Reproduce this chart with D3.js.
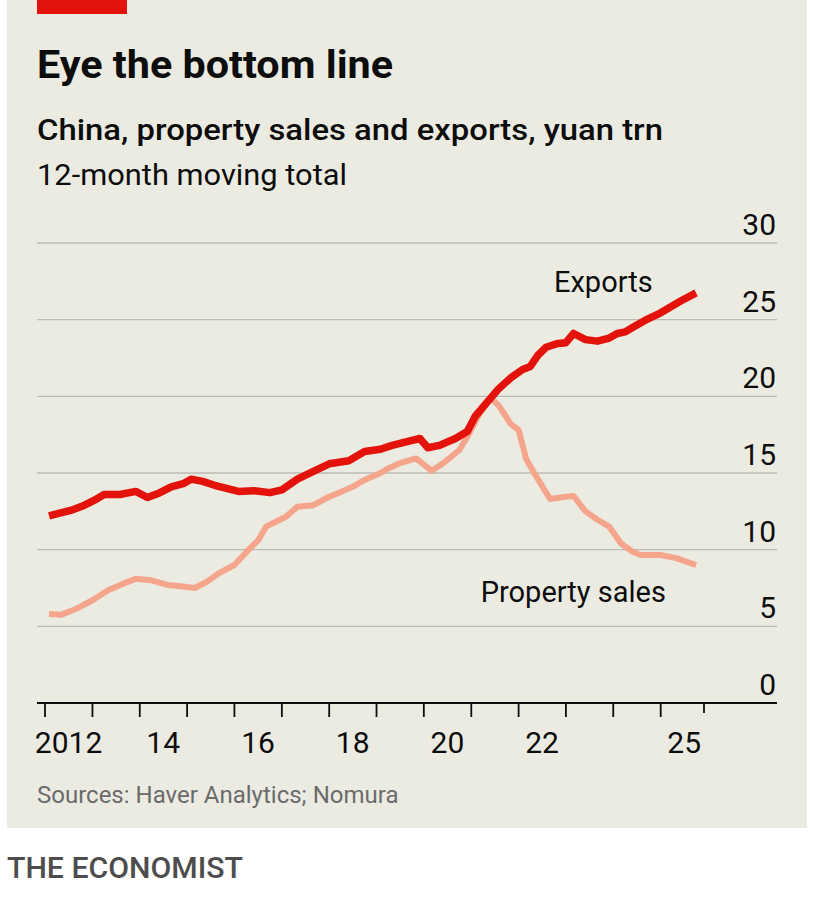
<!DOCTYPE html>
<html>
<head>
<meta charset="utf-8">
<script src="https://cdn.jsdelivr.net/npm/d3@7"></script>
<style>
  body { margin: 0; background: #fff; }
  text { font-family: Roboto, "Noto Sans", sans-serif; }
</style>
</head>
<body>
<script>
var width = 813,
    height = 919;

// 12-month moving totals, yuan trn
var exportDates = ["2012-02", "2012-05", "2012-08", "2012-11", "2013-02", "2013-04", "2013-08", "2013-12",
    "2014-03", "2014-06", "2014-09", "2014-12", "2015-02", "2015-05", "2015-08", "2015-11",
    "2016-02", "2016-06", "2016-10", "2017-01", "2017-05", "2017-09", "2018-01", "2018-06",
    "2018-10", "2019-02", "2019-05", "2019-08", "2019-12", "2020-02", "2020-05", "2020-09",
    "2020-12", "2021-02", "2021-04", "2021-06", "2021-08", "2021-11", "2022-02", "2022-04",
    "2022-06", "2022-08", "2022-11", "2023-01", "2023-03", "2023-06", "2023-09", "2023-12",
    "2024-02", "2024-04", "2024-06", "2024-09", "2025-01", "2025-03", "2025-06", "2025-10"];
var exportValues = [12.2, 12.4, 12.6, 12.9, 13.3, 13.6, 13.6, 13.8,
    13.4, 13.7, 14.1, 14.3, 14.6, 14.45, 14.2, 14.0,
    13.8, 13.85, 13.72, 13.9, 14.6, 15.1, 15.6, 15.8,
    16.4, 16.55, 16.8, 17.0, 17.25, 16.65, 16.8, 17.25,
    17.7, 18.7, 19.3, 19.9, 20.5, 21.2, 21.75, 21.95,
    22.7, 23.2, 23.45, 23.5, 24.1, 23.7, 23.6, 23.8,
    24.1, 24.2, 24.5, 24.95, 25.45, 25.75, 26.2, 26.75];

var propertyDates = ["2012-02", "2012-05", "2012-09", "2013-01", "2013-05", "2013-09", "2013-12",
    "2014-04", "2014-08", "2014-12", "2015-03", "2015-06", "2015-09", "2016-01", "2016-05",
    "2016-07", "2016-09", "2017-02", "2017-05", "2017-09", "2018-01", "2018-03", "2018-07",
    "2018-10", "2019-02", "2019-04", "2019-07", "2019-11", "2020-03", "2020-06", "2020-10",
    "2020-12", "2021-03", "2021-06", "2021-08", "2021-11", "2022-01", "2022-03", "2022-05",
    "2022-09", "2023-01", "2023-03", "2023-06", "2023-09", "2023-12", "2024-03", "2024-06",
    "2024-08", "2025-01", "2025-05", "2025-10"];
var propertyValues = [5.8, 5.75, 6.15, 6.7, 7.35, 7.8, 8.1,
    8.0, 7.7, 7.6, 7.5, 7.9, 8.45, 9.0, 10.1,
    10.6, 11.5, 12.15, 12.8, 12.9, 13.45, 13.65, 14.1,
    14.55, 15.0, 15.3, 15.65, 15.95, 15.15, 15.65, 16.5,
    17.35, 18.8, 19.9, 19.4, 18.2, 17.8, 15.9, 15.0,
    13.3, 13.45, 13.5, 12.5, 11.95, 11.5, 10.4, 9.85,
    9.65, 9.65, 9.45, 9.0];

var yTicks = [0, 5, 10, 15, 20, 25, 30];
var yearTicks = [2012, 2013, 2014, 2015, 2016, 2017, 2018, 2019, 2020, 2021, 2022, 2023, 2024, 2025];
var yearLabels = [[2012, "2012"], [2014, "14"], [2016, "16"], [2018, "18"], [2020, "20"], [2022, "22"], [2025, "25"]];
var seriesLabels = [
    {text: "Exports", date: "2022-10", value: 26.8},
    {text: "Property sales", date: "2021-03-15", value: 6.6}
];

var parse = d3.timeParse("%Y-%m"),
    parseDay = d3.timeParse("%Y-%m-%d");

var exportsData = exportDates.map(function(d, i) { return {date: parse(d), value: exportValues[i]}; });
var propertyData = propertyDates.map(function(d, i) { return {date: parse(d), value: propertyValues[i]}; });

var endDate = new Date(2025, 11, 1);

var x = d3.scaleTime()
    .domain([new Date(2012, 0, 1), endDate])
    .range([45, 704]);

var y = d3.scaleLinear()
    .domain([0, 30])
    .range([703, 243]);

var svg = d3.select('body').append('svg')
    .attr('width', width)
    .attr('height', height);

// panel
svg.append('rect')
    .attr('x', 7).attr('y', 0)
    .attr('width', 800).attr('height', 828)
    .attr('fill', '#ecebe2');

svg.append('rect')
    .attr('x', 37).attr('y', 0)
    .attr('width', 90).attr('height', 14)
    .attr('fill', '#e3120b');

// titles
svg.append('text')
    .attr('x', 37).attr('y', 78)
    .attr('font-size', 39).attr('font-weight', 700)
    .attr('fill', '#0d0d0d')
    .attr('textLength', 356).attr('lengthAdjust', 'spacingAndGlyphs')
    .text('Eye the bottom line');

svg.append('text')
    .attr('x', 37).attr('y', 140)
    .attr('font-size', 30).attr('font-weight', 500)
    .attr('fill', '#0d0d0d')
    .attr('textLength', 626).attr('lengthAdjust', 'spacingAndGlyphs')
    .text('China, property sales and exports, yuan trn');

svg.append('text')
    .attr('x', 37).attr('y', 185)
    .attr('font-size', 30).attr('font-weight', 400)
    .attr('fill', '#0d0d0d')
    .attr('textLength', 310).attr('lengthAdjust', 'spacingAndGlyphs')
    .text('12-month moving total');

// gridlines and y labels
var grid = svg.append('g');
grid.selectAll('line')
    .data(yTicks.filter(function(d) { return d > 0; }))
    .enter().append('line')
    .attr('x1', 37).attr('x2', 777)
    .attr('y1', function(d) { return y(d); })
    .attr('y2', function(d) { return y(d); })
    .attr('stroke', '#bcbcb4')
    .attr('stroke-width', 1.3);

grid.selectAll('text')
    .data(yTicks)
    .enter().append('text')
    .attr('x', 776)
    .attr('y', function(d) { return y(d) - 8; })
    .attr('text-anchor', 'end')
    .attr('font-size', 30)
    .attr('fill', '#0d0d0d')
    .text(function(d) { return d; });

// lines
var line = d3.line()
    .x(function(d) { return x(d.date); })
    .y(function(d) { return y(d.value); })
    .curve(d3.curveLinear);

svg.append('path')
    .datum(propertyData)
    .attr('d', line)
    .attr('fill', 'none')
    .attr('stroke', '#f5a58b')
    .attr('stroke-width', 6)
    .attr('stroke-linejoin', 'round');

svg.append('path')
    .datum(exportsData)
    .attr('d', line)
    .attr('fill', 'none')
    .attr('stroke', '#e3120b')
    .attr('stroke-width', 7.5)
    .attr('stroke-linejoin', 'round');

// x axis
svg.append('line')
    .attr('x1', 37).attr('x2', 777)
    .attr('y1', y(0)).attr('y2', y(0))
    .attr('stroke', '#0d0d0d')
    .attr('stroke-width', 2.2);

var xAxis = svg.append('g');
xAxis.selectAll('line.tick')
    .data(yearTicks)
    .enter().append('line')
    .attr('class', 'tick')
    .attr('x1', function(d) { return x(new Date(d, 0, 1)); })
    .attr('x2', function(d) { return x(new Date(d, 0, 1)); })
    .attr('y1', y(0)).attr('y2', y(0) + 14)
    .attr('stroke', '#0d0d0d')
    .attr('stroke-width', 1.8);

xAxis.append('line')
    .attr('x1', x(endDate)).attr('x2', x(endDate))
    .attr('y1', y(0)).attr('y2', y(0) + 10)
    .attr('stroke', '#0d0d0d')
    .attr('stroke-width', 1.8);

xAxis.selectAll('text')
    .data(yearLabels)
    .enter().append('text')
    .attr('x', function(d) { return x(new Date(d[0], 6, 1)); })
    .attr('y', 753)
    .attr('text-anchor', 'middle')
    .attr('font-size', 30)
    .attr('fill', '#0d0d0d')
    .text(function(d) { return d[1]; });

// series labels
svg.selectAll('text.series')
    .data(seriesLabels)
    .enter().append('text')
    .attr('class', 'series')
    .attr('x', function(d) { return x(parse(d.date) || parseDay(d.date)); })
    .attr('y', function(d) { return y(d.value); })
    .attr('font-size', 29)
    .attr('fill', '#0d0d0d')
    .text(function(d) { return d.text; });

// footer
svg.append('text')
    .attr('x', 37).attr('y', 803)
    .attr('font-size', 24)
    .attr('fill', '#6b6b6b')
    .text('Sources: Haver Analytics; Nomura');

svg.append('text')
    .attr('x', 7).attr('y', 878)
    .attr('font-size', 30).attr('font-weight', 500)
    .attr('fill', '#4d4d4d')
    .attr('textLength', 236).attr('lengthAdjust', 'spacingAndGlyphs')
    .text('THE ECONOMIST');
</script>
</body>
</html>
